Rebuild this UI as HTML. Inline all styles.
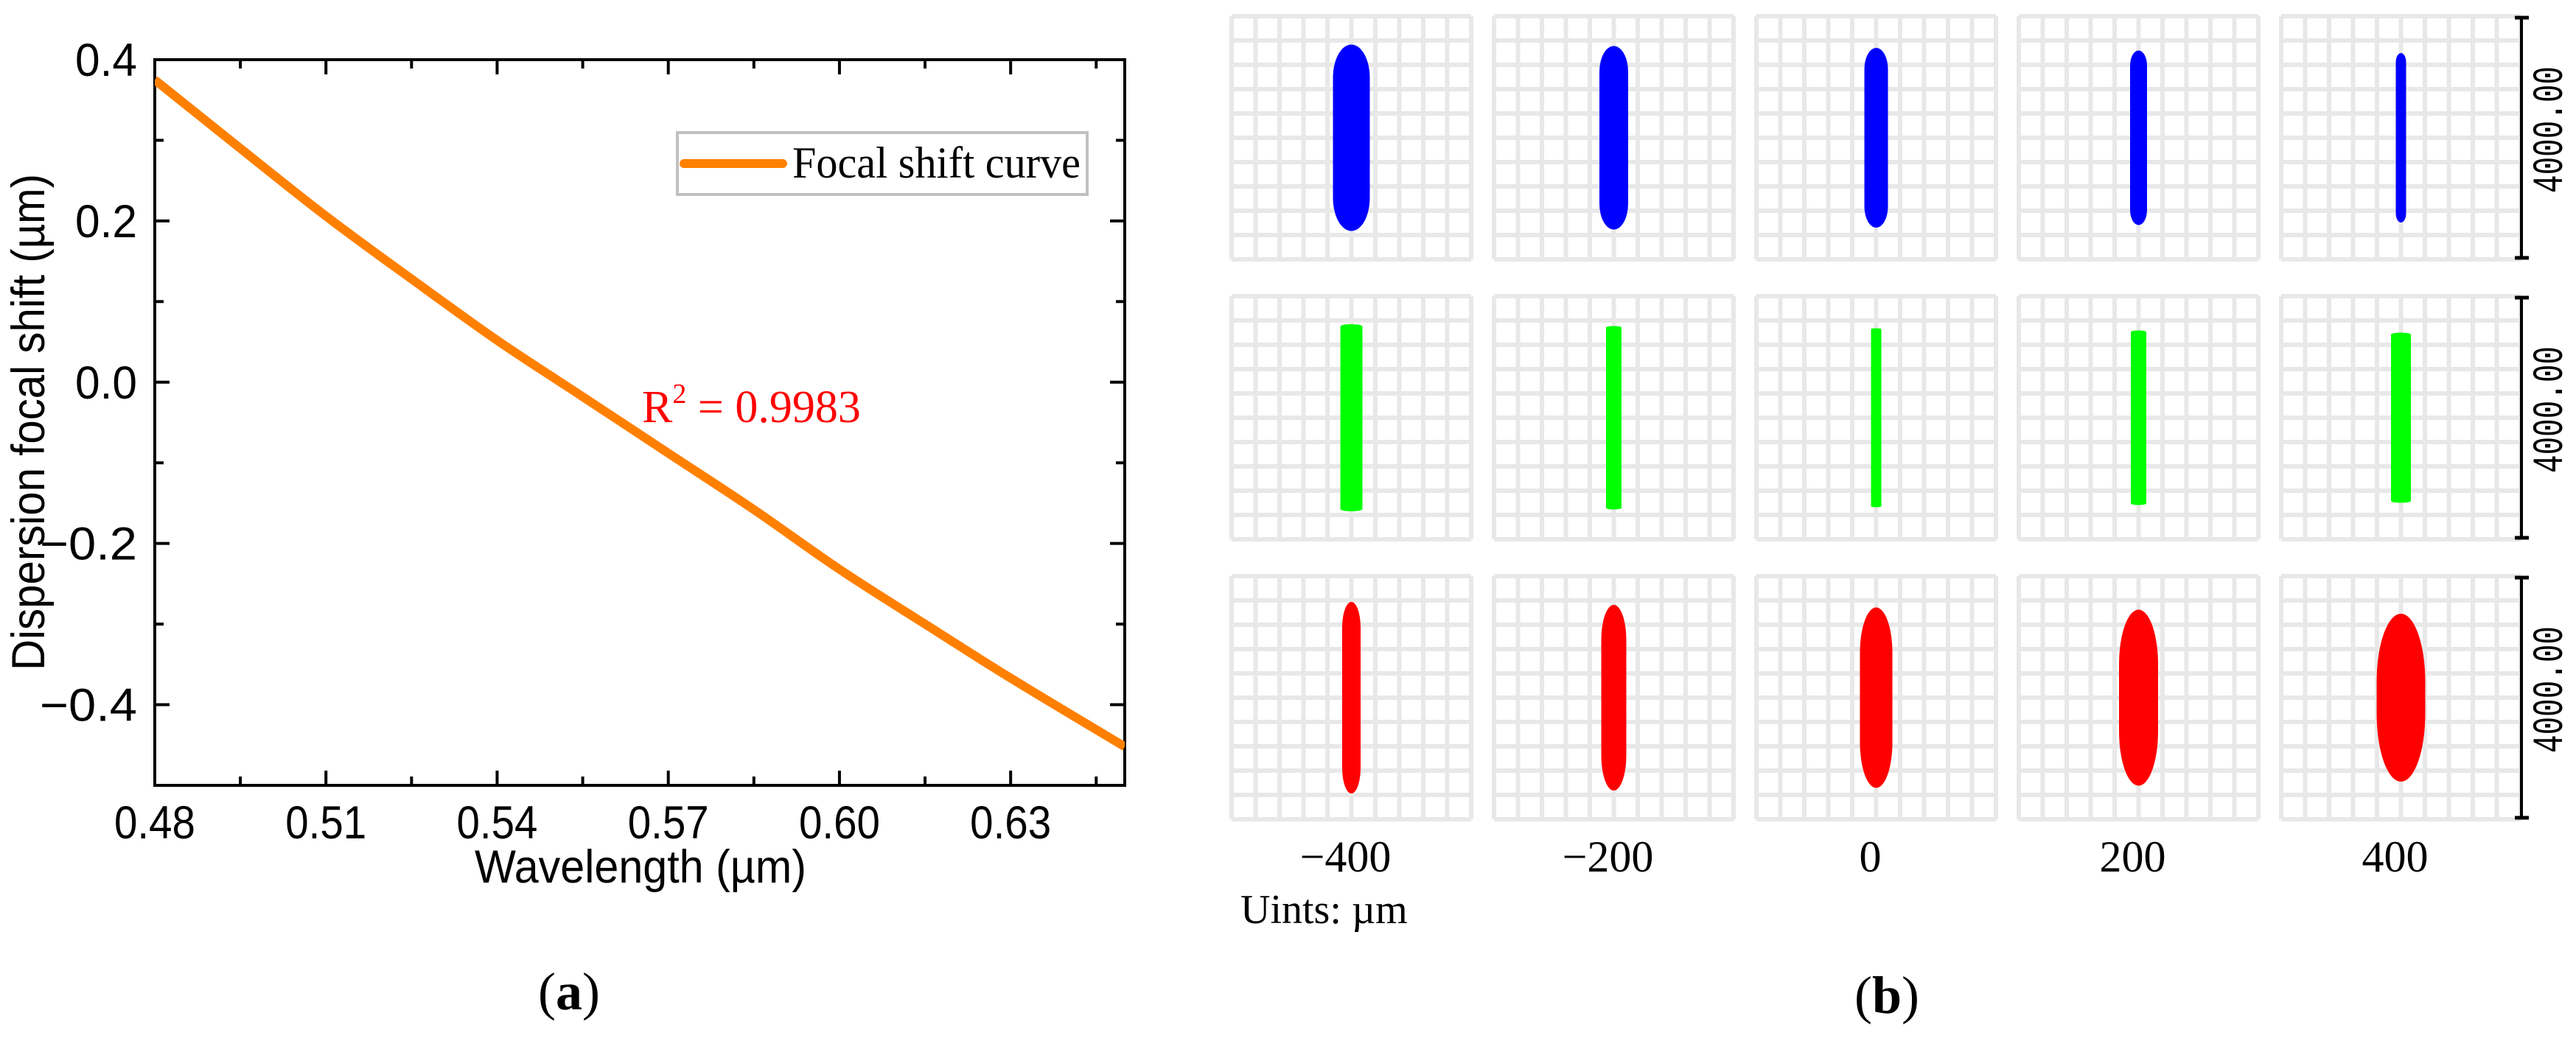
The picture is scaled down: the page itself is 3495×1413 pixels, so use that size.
<!DOCTYPE html>
<html><head><meta charset="utf-8"><style>
html,body{margin:0;padding:0;background:#fff}
svg{display:block}
</style></head><body>
<svg id="fig" width="3495" height="1413" viewBox="0 0 3495 1413" xmlns="http://www.w3.org/2000/svg">
<g id="panelA"></g>
<g id="panelB"></g>
<text x="772" y="1370" font-family="Liberation Serif, serif" font-size="72" text-anchor="middle">(<tspan font-weight="bold">a</tspan>)</text>
<text x="2560" y="1375" font-family="Liberation Serif, serif" font-size="72" text-anchor="middle">(<tspan font-weight="bold">b</tspan>)</text>
</svg>
<script>
// ---- Panel (a) data ----
const wavelengths = [0.48,0.495,0.51,0.525,0.54,0.555,0.57,0.585,0.60,0.615,0.63,0.65];
const focalShift = [0.375,0.29,0.206,0.128,0.052,-0.018,-0.088,-0.158,-0.232,-0.300,-0.367,-0.452];
const xTickValues = [0.48,0.51,0.54,0.57,0.60,0.63];
const xTickLabels = ["0.48","0.51","0.54","0.57","0.60","0.63"];
const yTickValues = [0.4,0.2,0.0,-0.2,-0.4];
const yTickLabels = ["0.4","0.2","0.0","\u22120.2","\u22120.4"];
// ---- Panel (b) data ----
const spotPositions = [-400,-200,0,200,400];
const spotPosLabels = ["\u2212400","\u2212200","0","200","400"];
const blueWidths = [615,480,394,283,172];
const blueHeights = [3114,3065,3003,2917,2831];
const greenWidths = [369,258,172,258,332];
const greenHeights = [3126,3065,2991,2917,2843];
const redWidths = [308,418,542,652,812];
const redHeights = [3200,3102,3015,2941,2806];

const NS = "http://www.w3.org/2000/svg";
function mk(tag, attrs, parent){const e=document.createElementNS(NS,tag);for(const k in attrs)e.setAttribute(k,attrs[k]);parent.appendChild(e);return e;}

// ---- Panel A ----
const A = document.getElementById('panelA');
const L=210,R=1526,T=81,B=1066;
const xmin=0.48,xmax=0.65,ymin=-0.5,ymax=0.4;
const sx=v=>L+(v-xmin)/(xmax-xmin)*(R-L);
const sy=v=>B-(v-ymin)/(ymax-ymin)*(B-T);

const tg = mk('g',{},A);


for(let v=0.48; v<=0.6501; v+=0.015){
  const major = Math.abs(((v-0.48)/0.03)-Math.round((v-0.48)/0.03))<1e-6;
  const len = major?20:12;
  const x=sx(v);
  mk('line',{x1:x,y1:B,x2:x,y2:B-len,stroke:'#000','stroke-width':4},tg);
  mk('line',{x1:x,y1:T,x2:x,y2:T+len,stroke:'#000','stroke-width':4},tg);
}
for(let v=-0.5; v<=0.4001; v+=0.1){
  const major = Math.abs(Math.round(v*10))%2===0;
  const len = major?20:12;
  const y=sy(v);
  mk('line',{x1:L,y1:y,x2:L+len,y2:y,stroke:'#000','stroke-width':4},tg);
  mk('line',{x1:R,y1:y,x2:R-len,y2:y,stroke:'#000','stroke-width':4},tg);
}
const fr = mk('rect',{x:L,y:T,width:R-L,height:B-T,fill:'none',stroke:'#000','stroke-width':4},A);



// smooth curve (Catmull-Rom)
const clip = mk('clipPath',{id:'clipA'},A);
mk('rect',{x:L,y:T,width:R-L,height:B-T},clip);
const P = wavelengths.map((w,i)=>[sx(w),sy(focalShift[i])]);
let d='M'+P[0][0].toFixed(1)+','+P[0][1].toFixed(1);
for(let i=0;i<P.length-1;i++){
  const p0=P[Math.max(i-1,0)],p1=P[i],p2=P[i+1],p3=P[Math.min(i+2,P.length-1)];
  const c1=[p1[0]+(p2[0]-p0[0])/6,p1[1]+(p2[1]-p0[1])/6];
  const c2=[p2[0]-(p3[0]-p1[0])/6,p2[1]-(p3[1]-p1[1])/6];
  d+=`C${c1[0].toFixed(1)},${c1[1].toFixed(1)} ${c2[0].toFixed(1)},${c2[1].toFixed(1)} ${p2[0].toFixed(1)},${p2[1].toFixed(1)}`;
}
const curve = mk('path',{d:d,fill:'none',stroke:'#ff8000','stroke-width':12,'stroke-linejoin':'round','clip-path':'url(#clipA)'},A);



xTickValues.forEach((v,i)=>{
  const t=mk('text',{x:sx(v),y:1138,'font-family':'Liberation Sans, sans-serif','font-size':63,'text-anchor':'middle',textLength:110,lengthAdjust:'spacingAndGlyphs'},A);
  t.textContent=xTickLabels[i];
  
  
});
yTickValues.forEach((v,i)=>{
  const neg = yTickLabels[i].length>3;
  const t=mk('text',{x:186,y:sy(v)+22,'font-family':'Liberation Sans, sans-serif','font-size':63,'text-anchor':'end',textLength:neg?132:84,lengthAdjust:'spacingAndGlyphs'},A);
  t.textContent=yTickLabels[i];
  
  
});
let t=mk('text',{x:869,y:1198,'font-family':'Liberation Sans, sans-serif','font-size':63,'text-anchor':'middle',textLength:450,lengthAdjust:'spacingAndGlyphs'},A);
t.textContent='Wavelength (\u00b5m)';


t=mk('text',{x:0,y:0,'font-family':'Liberation Sans, sans-serif','font-size':63,'text-anchor':'middle',textLength:674,lengthAdjust:'spacingAndGlyphs',transform:'translate(60,573) rotate(-90)'},A);
t.textContent='Dispersion focal shift (\u00b5m)';



const lg=mk('g',{},A);


mk('rect',{x:919,y:180,width:556,height:84,fill:'#fff',stroke:'#c0c0c0','stroke-width':4},lg);
mk('line',{x1:928,y1:222,x2:1062,y2:222,stroke:'#ff8000','stroke-width':12,'stroke-linecap':'round'},lg);
t=mk('text',{x:1075,y:241,'font-family':'Liberation Serif, serif','font-size':60,textLength:391,lengthAdjust:'spacingAndGlyphs'},lg);
t.textContent='Focal shift curve';


t=mk('text',{x:871,y:573,'font-family':'Liberation Serif, serif','font-size':62,fill:'#ff0000'},A);
t.innerHTML='R<tspan font-size="38" dy="-26">2</tspan><tspan dy="26"> = 0.9983</tspan>';



// ---- Panel B ----
const Bp=document.getElementById('panelB');
const panelX0=1671, panelPitch=356, panelW=325;
const rowY0=22, rowPitch=380, panelH=330;
const field=4000;
const pxPerUm = panelW/field;
const colX = i=>panelX0+i*panelPitch;
const rows=[
  {name:'blue',color:'#0000ff',w:blueWidths,h:blueHeights,cap:0.9},
  {name:'green',color:'#00ff00',w:greenWidths,h:greenHeights,cap:0.1},
  {name:'red',color:'#ff0000',w:redWidths,h:redHeights,cap:1.4}
];
rows.forEach((row,r)=>{
  const ry=rowY0+r*rowPitch;
  spotPositions.forEach((p,c)=>{
    const px=colX(c);
    const g=mk('g',{},Bp);
    
    
    let dd='';
    for(let k=0;k<=10;k++){
      const x=px+k*panelW/10, y=ry+k*panelH/10;
      dd+=`M${x},${ry}V${ry+panelH}M${px},${y}H${px+panelW}`;
    }
    mk('path',{d:dd,stroke:'#e8e8e8','stroke-width':6,fill:'none'},g);
    const w=row.w[c]*pxPerUm, h=row.h[c]*pxPerUm;
    const cx=px+panelW/2, cy=ry+panelH/2;
    const s=mk('rect',{x:cx-w/2,y:cy-h/2,width:w,height:h,rx:w/2,ry:Math.min(h/2,w*row.cap),fill:row.color},g);
    
    
  });
  const ax=mk('g',{},Bp);
  
  
  mk('line',{x1:3421,y1:ry+2,x2:3421,y2:ry+panelH-2,stroke:'#000','stroke-width':4},ax);
  mk('line',{x1:3412,y1:ry+2,x2:3431,y2:ry+2,stroke:'#000','stroke-width':5},ax);
  mk('line',{x1:3412,y1:ry+panelH-2,x2:3431,y2:ry+panelH-2,stroke:'#000','stroke-width':5},ax);
  const lt=mk('text',{x:0,y:0,'font-family':'Liberation Mono, monospace','font-size':58,'text-anchor':'middle',textLength:172,lengthAdjust:'spacingAndGlyphs',transform:`translate(3476,${ry+154}) rotate(-90)`},ax);
  lt.textContent='4000.00';
  
  
});
spotPositions.forEach((p,c)=>{
  const tt=mk('text',{x:colX(c)+panelW/2-8,y:1183,'font-family':'Liberation Serif, serif','font-size':60,'text-anchor':'middle'},Bp);
  tt.textContent=spotPosLabels[c];
  
  
});
t=mk('text',{x:1683,y:1253,'font-family':'Liberation Serif, serif','font-size':56},Bp);
t.textContent='Uints: \u00b5m';


</script>
</body></html>
